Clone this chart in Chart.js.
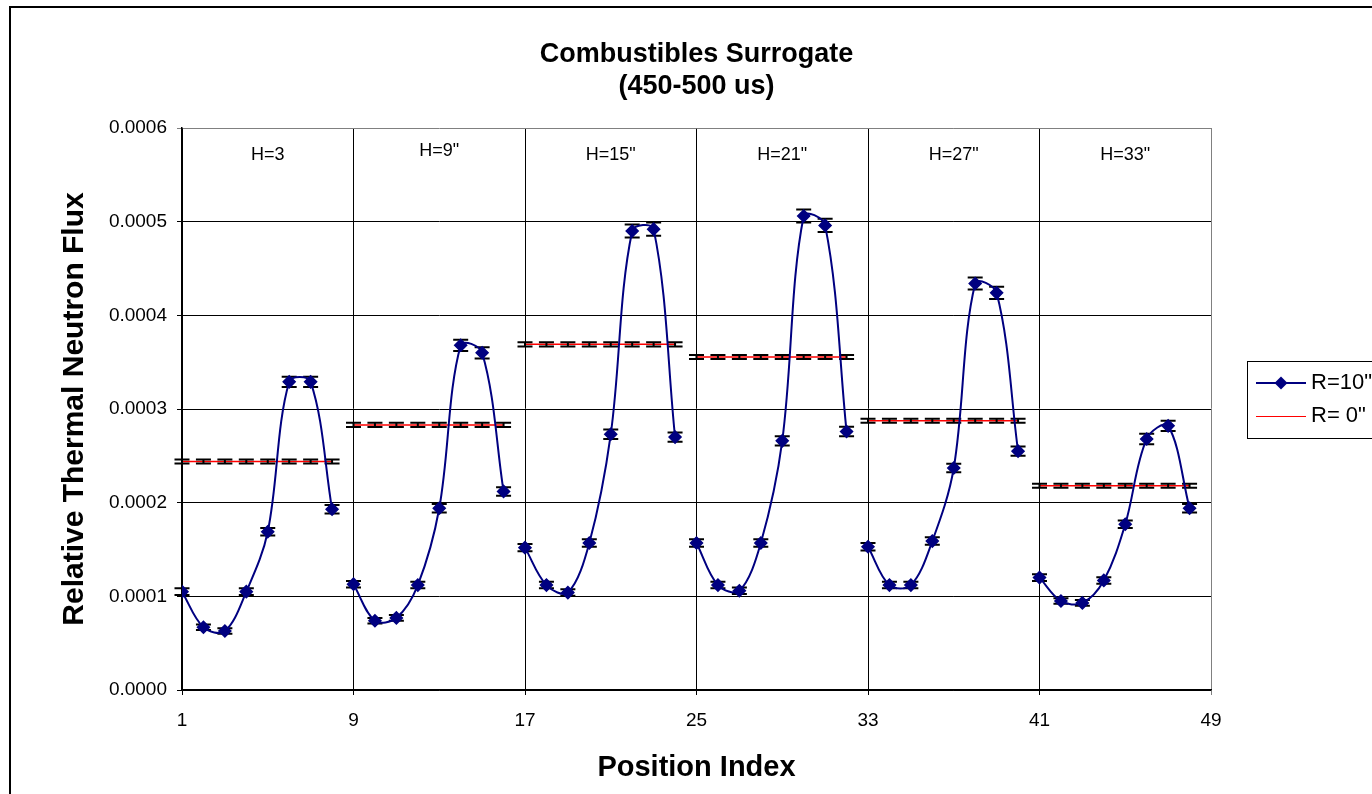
<!DOCTYPE html>
<html>
<head>
<meta charset="utf-8">
<script src="https://cdn.jsdelivr.net/npm/chart.js@4.4.1/dist/chart.umd.min.js"></script>
<style>
  html, body { margin: 0; padding: 0; background: #fff; overflow: hidden; width: 1372px; height: 794px; }
  #wrap { position: absolute; left: 9px; top: 6px; border: 2px solid #000; width: 1420px; height: 800px; }
  canvas { display: block; }
</style>
</head>
<body>
<div id="wrap"><canvas id="chart" width="1420" height="800"></canvas></div>
<script>
// position index of every measurement
const positions = [
    1, 2, 3, 4, 5, 6, 7, 8,
    9, 10, 11, 12, 13, 14, 15, 16,
    17, 18, 19, 20, 21, 22, 23, 24,
    25, 26, 27, 28, 29, 30, 31, 32,
    33, 34, 35, 36, 37, 38, 39, 40,
    41, 42, 43, 44, 45, 46, 47, 48
];
const sectionStarts = [1, 9, 17, 25, 33, 41];
const sectionLabels = ['H=3', 'H=9"', 'H=15"', 'H=21"', 'H=27"', 'H=33"'];
const sectionLabelY = [0.000571, 0.000575, 0.000571, 0.000571, 0.000571, 0.000571];

// R=10"
const blueFlux = [
    0.000105, 0.000067, 0.000063, 0.000105, 0.000169, 0.000329, 0.000329, 0.000193,
    0.000113, 0.000074, 0.000077, 0.000112, 0.000194, 0.000368, 0.000360, 0.000212,
    0.000152, 0.000112, 0.000104, 0.000157, 0.000273, 0.000490, 0.000492, 0.000270,
    0.000157, 0.000112, 0.000106, 0.000157, 0.000266, 0.000506, 0.000496, 0.000276,
    0.000153, 0.000112, 0.000112, 0.000159, 0.000237, 0.000434, 0.000424, 0.000255,
    0.000120, 0.000095, 0.000093, 0.000117, 0.000177, 0.000268, 0.000282, 0.000194
];
const blueErr = [
    0.0000035, 0.000003, 0.000003, 0.0000035, 0.000004, 0.0000055, 0.0000055, 0.0000045,
    0.0000035, 0.000003, 0.000003, 0.0000035, 0.0000045, 0.000006, 0.000006, 0.0000045,
    0.000004, 0.0000035, 0.0000035, 0.000004, 0.000005, 0.000007, 0.000007, 0.000005,
    0.000004, 0.0000035, 0.0000035, 0.000004, 0.000005, 0.000007, 0.000007, 0.000005,
    0.000004, 0.0000035, 0.0000035, 0.000004, 0.0000045, 0.0000065, 0.0000065, 0.000005,
    0.0000035, 0.000003, 0.000003, 0.0000035, 0.000004, 0.0000055, 0.0000055, 0.0000045
];

// R= 0"
const redFlux = [
    0.000244, 0.000244, 0.000244, 0.000244, 0.000244, 0.000244, 0.000244, 0.000244,
    0.000283, 0.000283, 0.000283, 0.000283, 0.000283, 0.000283, 0.000283, 0.000283,
    0.000369, 0.000369, 0.000369, 0.000369, 0.000369, 0.000369, 0.000369, 0.000369,
    0.0003555, 0.0003555, 0.0003555, 0.0003555, 0.0003555, 0.0003555, 0.0003555, 0.0003555,
    0.0002875, 0.0002875, 0.0002875, 0.0002875, 0.0002875, 0.0002875, 0.0002875, 0.0002875,
    0.000218, 0.000218, 0.000218, 0.000218, 0.000218, 0.000218, 0.000218, 0.000218
];
const redErr = [
    0.0000022, 0.0000022, 0.0000022, 0.0000022, 0.0000022, 0.0000022, 0.0000022, 0.0000022,
    0.0000022, 0.0000022, 0.0000022, 0.0000022, 0.0000022, 0.0000022, 0.0000022, 0.0000022,
    0.0000022, 0.0000022, 0.0000022, 0.0000022, 0.0000022, 0.0000022, 0.0000022, 0.0000022,
    0.0000022, 0.0000022, 0.0000022, 0.0000022, 0.0000022, 0.0000022, 0.0000022, 0.0000022,
    0.0000022, 0.0000022, 0.0000022, 0.0000022, 0.0000022, 0.0000022, 0.0000022, 0.0000022,
    0.0000022, 0.0000022, 0.0000022, 0.0000022, 0.0000022, 0.0000022, 0.0000022, 0.0000022
];

const yTicks = [0, 0.0001, 0.0002, 0.0003, 0.0004, 0.0005, 0.0006];

const FONT = "'Liberation Sans', Arial, sans-serif";
const NAVY = '#000080';

// break the line between the height sections
function withGaps(values, errs) {
    let pts = [];
    for (let i = 0; i < values.length; i++) {
        pts.push({x: positions[i], y: values[i], e: errs[i]});
        if (i % 8 === 7 && i < values.length - 1) {
            pts.push({x: positions[i] + 0.5, y: null, e: 0});
        }
    }
    return pts;
}

function drawErrors(chart, index) {
    const ds = chart.data.datasets[index];
    const meta = chart.getDatasetMeta(index);
    const yScale = chart.scales.y;
    const ctx = chart.ctx;
    ctx.save();
    ctx.strokeStyle = '#000';
    ctx.lineWidth = 2;
    meta.data.forEach(function(pt, i) {
        const raw = ds.data[i];
        if (raw.y === null || pt.skip) return;
        const top = yScale.getPixelForValue(raw.y + raw.e);
        const bot = yScale.getPixelForValue(raw.y - raw.e);
        const x = pt.x;
        const w = 7.5;
        ctx.beginPath();
        ctx.moveTo(x, top); ctx.lineTo(x, bot);
        ctx.moveTo(x - w, top); ctx.lineTo(x + w, top);
        ctx.moveTo(x - w, bot); ctx.lineTo(x + w, bot);
        ctx.stroke();
    });
    ctx.restore();
}

const errorBars = {
    id: 'errorBars',
    beforeDatasetDraw(chart, args) {
        if (args.index === 0) drawErrors(chart, 0);
    },
    afterDatasetDraw(chart, args) {
        if (args.index === 1) drawErrors(chart, 1);
    }
};

const sectionText = {
    id: 'sectionText',
    afterDraw(chart) {
        const ctx = chart.ctx;
        const xs = chart.scales.x, ys = chart.scales.y;
        ctx.save();
        ctx.font = '18px ' + FONT;
        ctx.fillStyle = '#000';
        ctx.textAlign = 'center';
        ctx.textBaseline = 'middle';
        for (let i = 0; i < sectionLabels.length; i++) {
            ctx.fillText(sectionLabels[i], xs.getPixelForValue(sectionStarts[i] + 4), ys.getPixelForValue(sectionLabelY[i]));
        }
        ctx.restore();
    }
};

// excel style legend box on the right
const boxLegend = {
    id: 'boxLegend',
    afterDraw(chart) {
        const ctx = chart.ctx;
        const a = chart.chartArea;
        const lx = a.right + 36;
        const ly = Math.round((a.top + a.bottom) / 2) - 48;
        ctx.save();
        ctx.strokeStyle = '#000';
        ctx.lineWidth = 1;
        ctx.strokeRect(lx + 0.5, ly + 0.5, 170, 77);

        // R=10"
        let y = ly + 22;
        ctx.strokeStyle = NAVY;
        ctx.lineWidth = 2;
        ctx.beginPath(); ctx.moveTo(lx + 9, y); ctx.lineTo(lx + 59, y); ctx.stroke();
        ctx.fillStyle = NAVY;
        ctx.beginPath();
        ctx.moveTo(lx + 34 - 6.5, y); ctx.lineTo(lx + 34, y - 6.5); ctx.lineTo(lx + 34 + 6.5, y); ctx.lineTo(lx + 34, y + 6.5);
        ctx.closePath(); ctx.fill();
        ctx.fillStyle = '#000';
        ctx.font = '22px ' + FONT;
        ctx.textBaseline = 'middle';
        ctx.fillText(chart.data.datasets[0].label, lx + 64, y);

        // R= 0"
        y = ly + 55;
        ctx.strokeStyle = '#ff0000';
        ctx.lineWidth = 1;
        ctx.beginPath(); ctx.moveTo(lx + 9, y + 0.5); ctx.lineTo(lx + 59, y + 0.5); ctx.stroke();
        ctx.fillText(chart.data.datasets[1].label, lx + 64, y);
        ctx.restore();
    }
};

const ctx = document.getElementById('chart').getContext('2d');
const chart = new Chart(ctx, {
    type: 'line',
    data: {
        datasets: [{
            label: 'R=10"',
            data: withGaps(blueFlux, blueErr),
            borderColor: NAVY,
            backgroundColor: NAVY,
            borderWidth: 2,
            tension: 0.35,
            pointStyle: 'rectRot',
            pointRadius: 6,
            pointBorderWidth: 1.5,
            pointBackgroundColor: NAVY,
            pointBorderColor: NAVY,
            spanGaps: false
        }, {
            label: 'R= 0"',
            data: withGaps(redFlux, redErr),
            borderColor: '#ff0000',
            borderWidth: 1.5,
            pointRadius: 0,
            tension: 0,
            spanGaps: false
        }]
    },
    options: {
        responsive: false,
        animation: false,
        devicePixelRatio: 1,
        layout: { padding: { left: 0, right: 220, top: 0, bottom: 0 } },
        plugins: {
            legend: { display: false },
            tooltip: { enabled: false },
            title: {
                display: true,
                fullSize: false,
                text: ['Combustibles Surrogate', '(450-500 us)'],
                color: '#000',
                font: { family: FONT, size: 27, weight: 'bold', lineHeight: 32 / 27 },
                padding: { top: 31, bottom: 25 }
            }
        },
        scales: {
            x: {
                type: 'linear',
                min: 1,
                max: 49,
                afterFit: function(scale) { scale.height = 118; },
                ticks: {
                    stepSize: 8,
                    color: '#000',
                    padding: 14,
                    font: { family: FONT, size: 19 },
                    maxRotation: 0
                },
                grid: {
                    color: function(c) { return c.tick && c.tick.value === 49 ? '#808080' : '#000'; },
                    lineWidth: 1,
                    tickLength: 5
                },
                border: { color: '#000', width: 1.5 },
                title: {
                    display: true,
                    text: 'Position Index',
                    color: '#000',
                    font: { family: FONT, size: 29, weight: 'bold' },
                    padding: { top: 0, bottom: 23 }
                }
            },
            y: {
                min: 0,
                max: 0.0006,
                afterFit: function(scale) { scale.width = 171; },
                afterBuildTicks: function(scale) {
                    scale.ticks = yTicks.map(function(v) { return {value: v}; });
                },
                ticks: {
                    color: '#000',
                    padding: 10,
                    font: { family: FONT, size: 19 },
                    callback: function(v) { return Number(v).toFixed(4); }
                },
                grid: {
                    color: function(c) { return c.tick && c.tick.value >= 0.00059 ? '#808080' : '#000'; },
                    lineWidth: 1,
                    tickLength: 5
                },
                border: { color: '#000', width: 1.5 },
                title: {
                    display: true,
                    text: 'Relative Thermal Neutron Flux',
                    color: '#000',
                    font: { family: FONT, size: 30, weight: 'bold' },
                    padding: { top: 46, bottom: 0 }
                }
            }
        }
    },
    plugins: [errorBars, sectionText, boxLegend]
});
</script>
</body>
</html>
